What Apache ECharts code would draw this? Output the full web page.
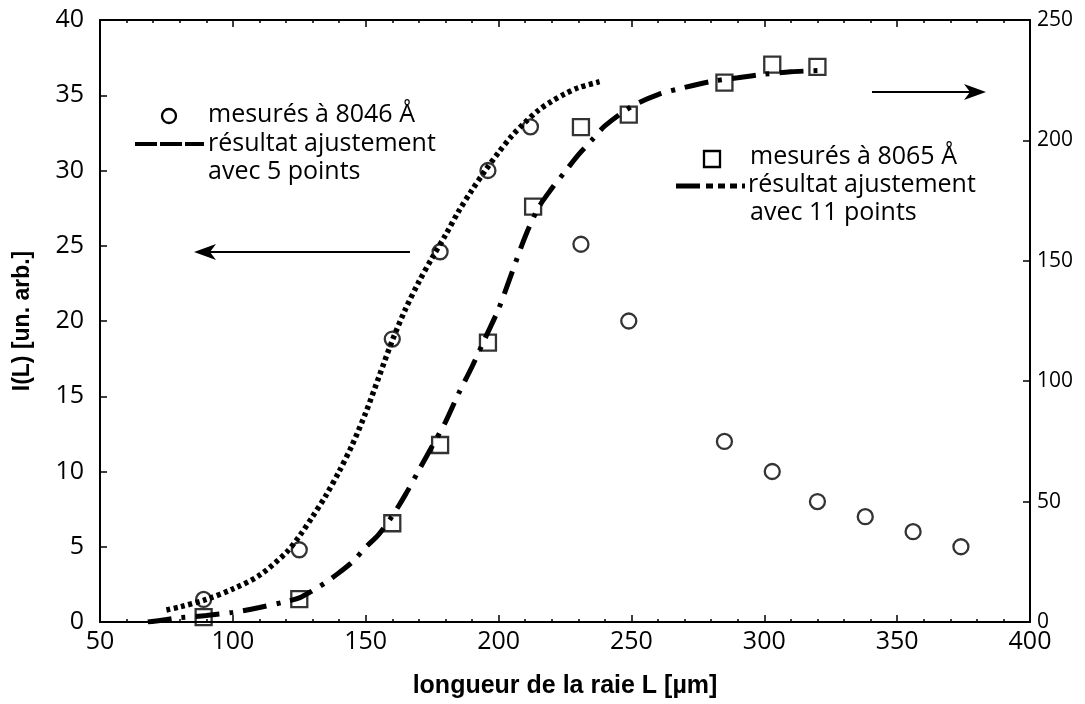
<!DOCTYPE html>
<html>
<head>
<meta charset="utf-8">
<script src="https://cdn.jsdelivr.net/npm/echarts@6/dist/echarts.min.js"></script>
<style>
html,body{margin:0;padding:0;background:#fff;overflow:hidden;}
#chart{width:1085px;height:704px;}
</style>
</head>
<body>
<div id="chart"></div>
<script>
// Measured at 8046 Å (left axis)
const circleX = [89, 125, 160, 178, 196, 212, 231, 249, 285, 303, 320, 338, 356, 374];
const circleY = [1.5, 4.8, 18.8, 24.6, 30.0, 32.9, 25.1, 20.0, 12.0, 10.0, 8.0, 7.0, 6.0, 5.0];
// Measured at 8065 Å (right axis)
const squareX = [89, 125, 160, 178, 196, 213, 231, 249, 285, 303, 320];
const squareY = [2, 9.5, 41, 73.5, 116, 172.5, 205.5, 210.7, 224, 231.5, 230.5];
// Fit with 5 points (left axis)
const fit5X = [75, 80, 90, 100, 110, 120, 125, 130, 135, 140, 145, 150, 155, 160, 165, 170, 175, 180, 185, 190, 195, 200, 205, 210, 215, 220, 225, 230, 238];
const fit5Y = [0.8, 1.0, 1.5, 2.2, 3.1, 4.6, 5.7, 7.0, 8.4, 10.0, 11.8, 13.9, 16.3, 18.7, 20.8, 22.6, 24.2, 25.7, 27.3, 28.7, 30.0, 31.2, 32.3, 33.2, 34.0, 34.6, 35.1, 35.5, 35.9];
// Fit with 11 points (right axis)
const fit11X = [68, 75, 80, 90, 100, 110, 120, 125, 130, 135, 140, 145, 150, 155, 160, 165, 170, 175, 180, 185, 190, 195, 200, 205, 210, 215, 220, 225, 230, 235, 240, 250, 260, 270, 280, 290, 300, 310, 320];
const fit11Y = [0, 1, 1.8, 2.7, 4, 6, 8.5, 10, 13, 16.5, 20.5, 25, 31, 36.5, 44, 53, 63, 73, 83, 95, 106, 118, 130, 145, 160, 172, 180, 187, 194, 200, 206, 214, 219, 222, 224.5, 226, 227.5, 228.5, 229];
// Tick settings
const xTicks = {min: 50, max: 400, interval: 50};
const yLeftTicks = {min: 0, max: 40, interval: 5};
const yRightTicks = {min: 0, max: 250, interval: 50};

const zip = (xs, ys) => xs.map((x, i) => [x, ys[i]]);
const FONT = '"Open Sans", "DejaVu Sans", sans-serif';
const TITLE_FONT = '"Liberation Sans", Arial, sans-serif';

const chart = echarts.init(document.getElementById('chart'), null, {renderer: 'canvas'});

const axisLineStyle = {lineStyle: {color: '#000', width: 2}};
const tickStyle = {show: true, inside: true, length: 7, lineStyle: {color: '#000', width: 1.5}};
const minorStyle = {show: true, splitNumber: 5, length: 3, lineStyle: {color: '#000', width: 1.5}};

const option = {
  animation: false,
  backgroundColor: '#fff',
  grid: {left: 100, right: 55, top: 20, bottom: 79, containLabel: false},
  xAxis: [
    {
      type: 'value', position: 'bottom', ...xTicks,
      axisLine: {show: true, onZero: false, ...axisLineStyle},
      axisTick: tickStyle, minorTick: minorStyle,
      splitLine: {show: false},
      axisLabel: {color: '#000', fontFamily: FONT, fontSize: 25, margin: 7},
      name: 'longueur de la raie L [µm]', nameLocation: 'middle', nameGap: 52,
      nameTextStyle: {color: '#000', fontFamily: TITLE_FONT, fontWeight: 'bold', fontSize: 25}
    },
    {
      type: 'value', position: 'top', ...xTicks,
      axisLine: {show: true, onZero: false, ...axisLineStyle},
      axisTick: tickStyle, minorTick: minorStyle,
      splitLine: {show: false},
      axisLabel: {show: false}
    }
  ],
  yAxis: [
    {
      type: 'value', position: 'left', ...yLeftTicks,
      axisLine: {show: true, onZero: false, ...axisLineStyle},
      axisTick: tickStyle,
      splitLine: {show: false},
      axisLabel: {color: '#000', fontFamily: FONT, fontSize: 25, margin: 16},
      name: 'I(L) [un. arb.]', nameLocation: 'middle', nameGap: 66, nameRotate: 90,
      nameTextStyle: {color: '#000', fontFamily: TITLE_FONT, fontWeight: 'bold', fontSize: 23}
    },
    {
      type: 'value', position: 'right', ...yRightTicks,
      axisLine: {show: true, onZero: false, ...axisLineStyle},
      axisTick: tickStyle,
      splitLine: {show: false},
      axisLabel: {color: '#000', fontFamily: FONT, fontSize: 21, margin: 7}
    }
  ],
  series: [
    {
      name: 'fit5', type: 'line', xAxisIndex: 0, yAxisIndex: 0,
      data: zip(fit5X, fit5Y), smooth: 0.3, showSymbol: false, z: 2,
      lineStyle: {color: '#000', width: 5.5, type: [4, 3.5], cap: 'butt'}
    },
    {
      name: 'fit11', type: 'line', xAxisIndex: 0, yAxisIndex: 1,
      data: zip(fit11X, fit11Y), smooth: 0.3, showSymbol: false, z: 2,
      lineStyle: {color: '#000', width: 5, type: [24, 10, 4, 10], cap: 'butt'}
    },
    {
      name: 'mesurés à 8046 Å', type: 'scatter', xAxisIndex: 0, yAxisIndex: 0,
      data: zip(circleX, circleY), symbol: 'circle', symbolSize: 15, z: 5,
      itemStyle: {color: 'rgba(0,0,0,0)', borderColor: '#000', borderWidth: 2.3}
    },
    {
      name: 'mesurés à 8065 Å', type: 'scatter', xAxisIndex: 0, yAxisIndex: 1,
      data: zip(squareX, squareY), symbol: 'rect', symbolSize: 16, z: 5,
      itemStyle: {color: 'rgba(0,0,0,0)', borderColor: '#000', borderWidth: 2.3}
    }
  ],
  graphic: [
    // left legend
    {type: 'circle', shape: {cx: 169, cy: 116, r: 7}, style: {fill: 'none', stroke: '#000', lineWidth: 2.3}},
    {type: 'text', x: 208, y: 115, style: {text: 'mesurés à 8046 Å', font: '25px ' + FONT, fill: '#000', verticalAlign: 'middle'}},
    {type: 'line', shape: {x1: 135, y1: 144, x2: 204, y2: 144}, style: {stroke: '#000', lineWidth: 4, lineDash: [22, 3]}},
    {type: 'text', x: 208, y: 144, style: {text: 'résultat ajustement', font: '25px ' + FONT, fill: '#000', verticalAlign: 'middle'}},
    {type: 'text', x: 208, y: 172, style: {text: 'avec 5 points', font: '25px ' + FONT, fill: '#000', verticalAlign: 'middle'}},
    // right legend
    {type: 'rect', shape: {x: 704, y: 151, width: 16, height: 16}, style: {fill: 'none', stroke: '#000', lineWidth: 2.3}},
    {type: 'text', x: 750, y: 157, style: {text: 'mesurés à 8065 Å', font: '25px ' + FONT, fill: '#000', verticalAlign: 'middle'}},
    {type: 'line', shape: {x1: 676, y1: 186, x2: 745, y2: 186}, style: {stroke: '#000', lineWidth: 5, lineDash: [24, 6, 7, 5, 7, 5, 7, 5]}},
    {type: 'text', x: 748, y: 185, style: {text: 'résultat ajustement', font: '25px ' + FONT, fill: '#000', verticalAlign: 'middle'}},
    {type: 'text', x: 750, y: 213, style: {text: 'avec 11 points', font: '25px ' + FONT, fill: '#000', verticalAlign: 'middle'}},
    // arrows
    {type: 'line', shape: {x1: 410, y1: 252, x2: 198, y2: 252}, style: {stroke: '#000', lineWidth: 2}},
    {type: 'polygon', shape: {points: [[194, 252], [216, 244], [210, 252], [216, 260]]}, style: {fill: '#000'}},
    {type: 'line', shape: {x1: 872, y1: 92, x2: 982, y2: 92}, style: {stroke: '#000', lineWidth: 2}},
    {type: 'polygon', shape: {points: [[986, 92], [964, 84], [970, 92], [964, 100]]}, style: {fill: '#000'}}
  ]
};
chart.setOption(option);
</script>
</body>
</html>
